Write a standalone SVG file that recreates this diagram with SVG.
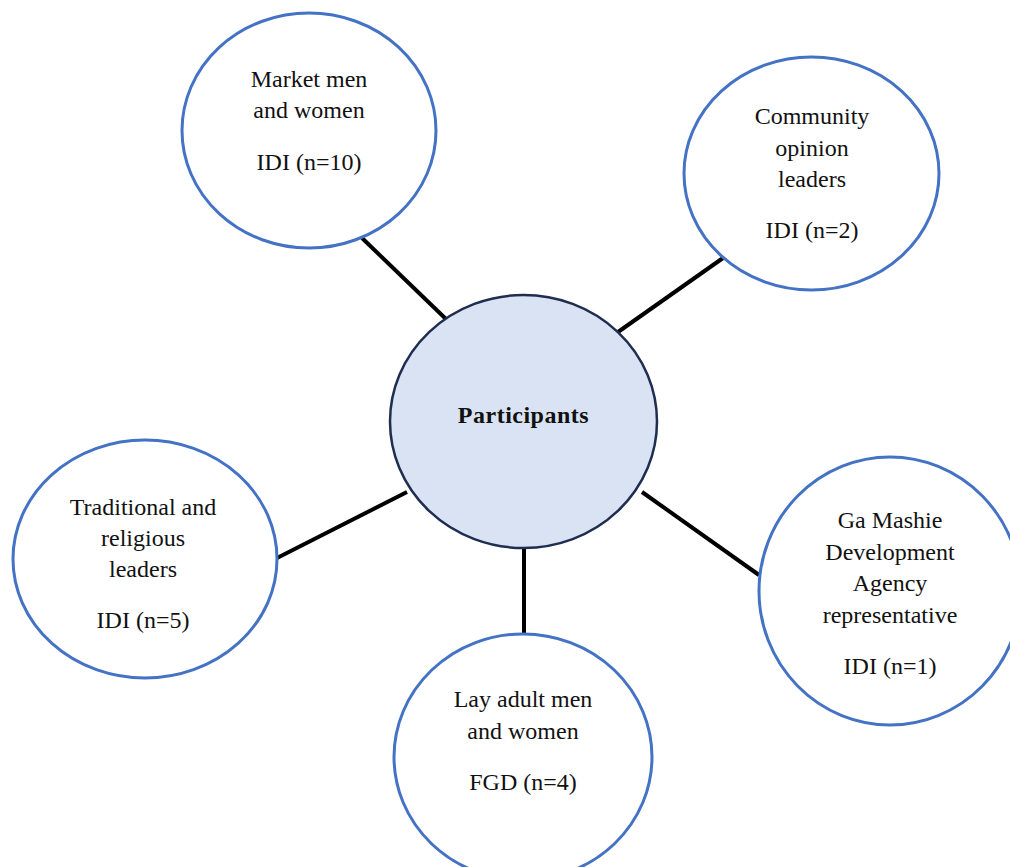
<svg xmlns="http://www.w3.org/2000/svg" width="1010" height="867" viewBox="0 0 1010 867">
<style>
.node{fill:#ffffff;stroke:#4472c4;stroke-width:3}
.center{fill:#dae3f3;stroke:#1f2d50;stroke-width:2.5}
.conn{stroke:#000000;stroke-width:4;stroke-linecap:butt}
text{font-family:"Liberation Serif","Times New Roman",serif;font-size:24px;fill:#111111;text-anchor:middle}
.bold{font-weight:bold;letter-spacing:0.5px}
</style>
<rect width="1010" height="867" fill="#ffffff"/>
<g id="connectors">
<line class="conn" x1="362" y1="238" x2="447" y2="320"/>
<line class="conn" x1="723" y1="258" x2="618" y2="332"/>
<line class="conn" x1="277" y1="558" x2="407" y2="492"/>
<line class="conn" x1="642" y1="492" x2="759" y2="575"/>
<line class="conn" x1="524" y1="548" x2="524" y2="634"/>
</g>
<g id="participants">
<ellipse class="center" cx="523.5" cy="421.5" rx="133.5" ry="126.5"/>
<text class="bold" x="523.5" y="423">Participants</text>
</g>
<g id="market">
<ellipse class="node" cx="309" cy="130.5" rx="127" ry="117.5"/>
<text x="309" y="87">Market men</text>
<text x="309" y="118">and women</text>
<text x="309" y="170">IDI (n=10)</text>
</g>
<g id="community">
<ellipse class="node" cx="811.5" cy="173.5" rx="127.5" ry="116.5"/>
<text x="812" y="124">Community</text>
<text x="812" y="156">opinion</text>
<text x="812" y="187">leaders</text>
<text x="812" y="238">IDI (n=2)</text>
</g>
<g id="traditional">
<ellipse class="node" cx="145" cy="559" rx="132" ry="119"/>
<text x="143" y="515">Traditional and</text>
<text x="143" y="546">religious</text>
<text x="143" y="577">leaders</text>
<text x="143" y="628">IDI (n=5)</text>
</g>
<g id="gamashie">
<ellipse class="node" cx="890" cy="591" rx="131" ry="134"/>
<text x="890" y="528">Ga Mashie</text>
<text x="890" y="560">Development</text>
<text x="890" y="591">Agency</text>
<text x="890" y="623">representative</text>
<text x="890" y="674">IDI (n=1)</text>
</g>
<g id="layadult">
<ellipse class="node" cx="523" cy="757" rx="129" ry="123"/>
<text x="523" y="707">Lay adult men</text>
<text x="523" y="739">and women</text>
<text x="523" y="790">FGD (n=4)</text>
</g>
</svg>
